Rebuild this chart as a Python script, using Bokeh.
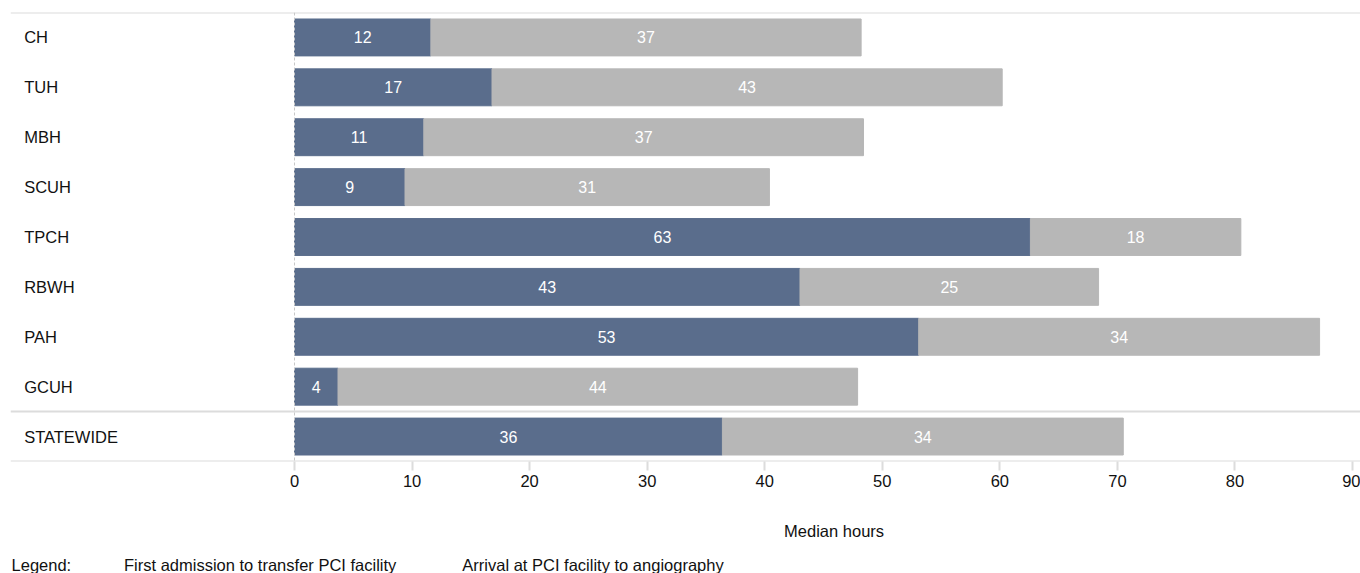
from bokeh.plotting import figure
from bokeh.layouts import column
from bokeh.models import (Range1d, FactorRange, FixedTicker, Span, Legend,
                          LegendItem, ColumnDataSource, CDSView, IndexFilter)
from bokeh.core.properties import value
from bokeh.embed import file_html
from bokeh.resources import INLINE

categories = ["CH", "TUH", "MBH", "SCUH", "TPCH", "RBWH", "PAH", "GCUH", "STATEWIDE"]
first_admission = [11.6, 16.8, 11.0, 9.4, 62.6, 43.0, 53.1, 3.7, 36.4]
arrival_to_angio = [36.6, 43.4, 37.4, 31.0, 17.9, 25.4, 34.1, 44.2, 34.1]
x_ticks = [0, 10, 20, 30, 40, 50, 60, 70, 80, 90]
series_names = ["First admission to transfer PCI facility",
                "Arrival at PCI facility to angiography"]
x_title = "Median hours"
legend_caption = "Legend:"

BLUE = "#5a6d8c"
GREY = "#b7b7b7"
FONT = "Liberation Sans"
LINE = "#dcdcdc"
FS = "16.5px"
TXT = "#111111"
X0, X1 = -24.16, 90.68   # x extent of the main frame (data units)

total = [a + b for a, b in zip(first_admission, arrival_to_angio)]
src = ColumnDataSource(dict(
    cat=categories,
    first=first_admission,
    second=arrival_to_angio,
    total=total,
    mid1=[a / 2 for a in first_admission],
    mid2=[a + b / 2 for a, b in zip(first_admission, arrival_to_angio)],
    lab1=[f"{v:.0f}" for v in first_admission],
    lab2=[f"{v:.0f}" for v in arrival_to_angio],
    labx=[-23.0] * len(categories),
))

p = figure(width=1360, height=500, output_backend="svg", toolbar_location=None,
           x_range=Range1d(X0, X1),
           y_range=FactorRange(*reversed(categories)),
           y_axis_location=None,
           min_border_left=10, min_border_right=0, min_border_top=12,
           min_border_bottom=39)
p.outline_line_color = None
p.xgrid.visible = False
p.ygrid.visible = False

p.hbar(y="cat", left=0, right="first", height=0.74, color=BLUE, source=src)
p.hbar(y="cat", left="first", right="total", height=0.74, color=GREY, source=src)

p.text(x="mid1", y="cat", text="lab1", source=src, text_color="white",
       text_align="center", text_baseline="middle",
       text_font=value(FONT), text_font_size="16px")
p.text(x="mid2", y="cat", text="lab2", source=src, text_color="white",
       text_align="center", text_baseline="middle",
       text_font=value(FONT), text_font_size="16px")
p.text(x="labx", y="cat", text="cat", source=src, text_color=TXT,
       text_align="left", text_baseline="middle",
       text_font=value(FONT), text_font_size=FS)

for loc in [0, 1, 9]:
    p.add_layout(Span(location=loc, dimension="width", line_color=LINE, line_width=2))
p.add_layout(Span(location=0, dimension="height", line_color="#c8c8c8",
                  line_width=1, line_dash="3 2"))

ax = p.xaxis[0]
ax.ticker = FixedTicker(ticks=x_ticks)
ax.axis_line_color = None
ax.major_tick_in = 0
ax.major_tick_out = 9
ax.major_tick_line_color = LINE
ax.major_tick_line_width = 2
ax.minor_tick_line_color = None
ax.major_label_standoff = 4
ax.major_label_text_font = FONT
ax.major_label_text_font_size = FS
ax.major_label_text_color = TXT

# strip underneath: axis title and legend (same horizontal scale as the chart)
leg = figure(width=1360, height=73, output_backend="svg", toolbar_location=None,
             x_range=Range1d(X0, X1), y_range=Range1d(0, 1),
             x_axis_location=None, y_axis_location=None,
             min_border_left=10, min_border_right=0, min_border_top=0,
             min_border_bottom=0)
leg.outline_line_color = None
leg.xgrid.visible = False
leg.ygrid.visible = False

leg.text(x=[45.9], y=[0.589], text=[x_title], text_color=TXT,
         text_align="center", text_baseline="middle",
         text_font=value(FONT), text_font_size=FS)
leg.text(x=[-24.07], y=[0.123], text=[legend_caption], text_color=TXT,
         text_align="left", text_baseline="middle",
         text_font=value(FONT), text_font_size=FS)

# legend renderers: same data, with every row filtered out of the drawing
lr1 = leg.hbar(y="first", left=0, right="first", height=0.74, color=BLUE,
               source=src, view=CDSView(filter=IndexFilter(indices=[])))
lr2 = leg.hbar(y="total", left="first", right="total", height=0.74, color=GREY,
               source=src, view=CDSView(filter=IndexFilter(indices=[])))

series = Legend(items=[LegendItem(label=series_names[0], renderers=[lr1]),
                       LegendItem(label=series_names[1], renderers=[lr2])],
                orientation="horizontal", location=(75, -4),
                label_text_font=FONT, label_text_font_size=FS,
                label_text_color=TXT, label_height=24,
                glyph_width=29, glyph_height=24, label_standoff=10, spacing=27,
                padding=0, margin=0, border_line_color=None,
                background_fill_alpha=0)
leg.add_layout(series, "center")

layout = column(p, leg, spacing=0)
open("out.html", "w").write(file_html(layout, INLINE))
